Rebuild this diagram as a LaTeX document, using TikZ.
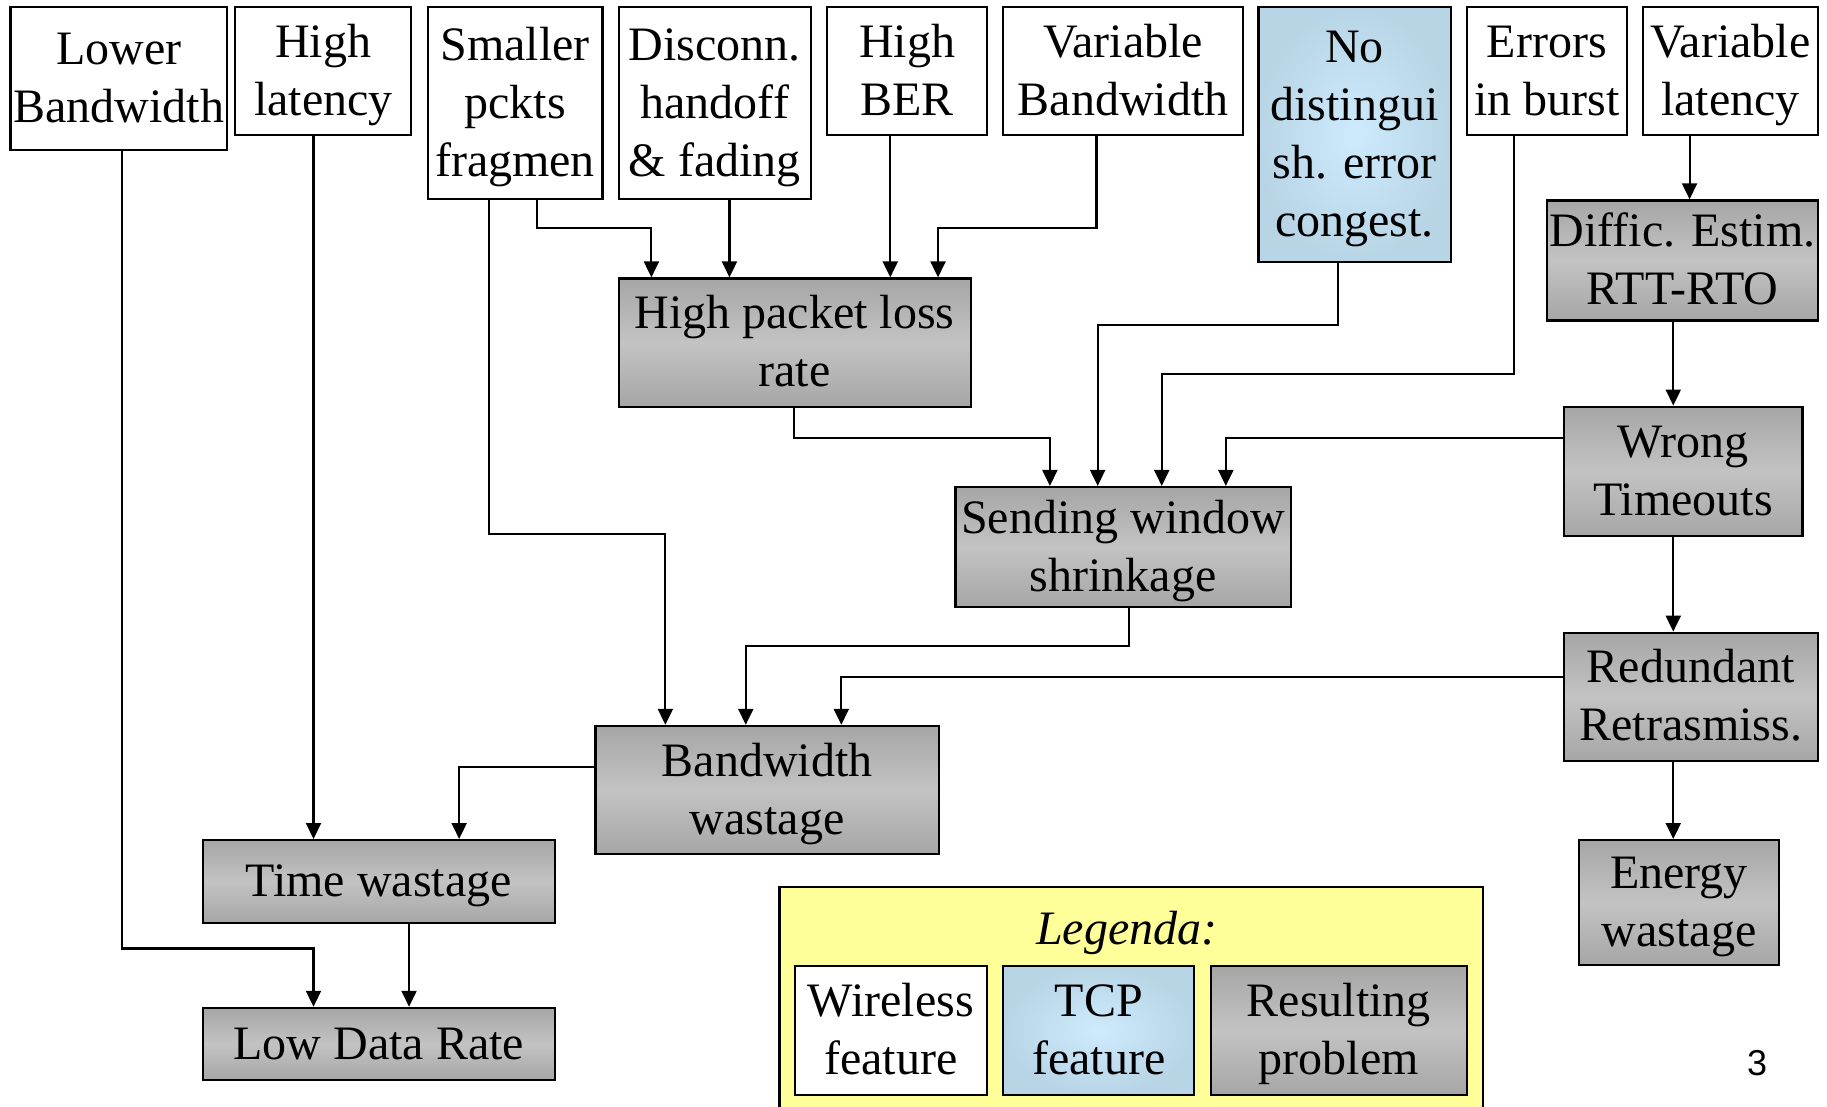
\documentclass[tikz,border=0pt]{standalone}
\usepackage{fontspec}
\setmainfont{Liberation Serif}
\newfontfamily\numfont{Liberation Sans}
\usetikzlibrary{arrows.meta,calc}

\definecolor{gdark}{HTML}{A6A6A6}
\definecolor{glight}{HTML}{C3C3C3}
\definecolor{blight}{HTML}{CDEBFD}
\definecolor{bdark}{HTML}{B8D5E6}
\definecolor{legy}{HTML}{FFFF99}

\newcommand\boxfont{\fontsize{24}{29}\selectfont}
% line strut giving the first and last text lines a 22pt height and 7pt depth
\newcommand\bstrut{\rule[-7pt]{0pt}{29pt}}
% \bx{style}{x1}{y1}{x2}{y2}{name}{text}: a box spanning the given corners
\newcommand\bx[7]{%
  \node[#1, minimum width={(#4-#2)*0.5826pt}, minimum height={(#5-#3)*0.5826pt}]
    (#6) at ({(#2+#4)/2},{(#3+#5)/2}) {\bstrut#7\bstrut};}

\tikzset{
  basebox/.style={draw=black, line width=1.1pt, inner sep=0pt, align=center, font=\boxfont},
  wbox/.style={basebox, fill=white},
  gbox/.style={basebox, top color=gdark, bottom color=gdark, middle color=glight},
  bbox/.style={basebox, inner color=blight, outer color=bdark},
  arr/.style={line width=1.05pt, -{Triangle[length=8pt,width=7.5pt]}},
}

\begin{document}
\begin{tikzpicture}[x=0.5826pt, y=-0.5826pt]
\useasboundingbox[fill=white] (0,0) rectangle (1568,950);

% top row: wireless features and TCP feature
\bx{wbox}{9}{6}{195}{129}{lb}{Lower\\Bandwidth}
\bx{wbox}{202}{6}{353}{116}{hl}{High\\latency}
\bx{wbox}{367}{6}{517}{171}{sp}{Smaller\\pckts\\fragmen}
\bx{wbox}{531}{6}{696}{171}{dh}{Disconn.\\handoff\\\& fading}
\bx{wbox}{710}{6}{847}{116}{ber}{High\\BER}
\bx{wbox}{861}{6}{1067}{116}{vb}{Variable\\Bandwidth}
\bx{bbox}{1080}{6}{1245}{225}{nd}{No\\distingui\\sh. error\\congest.}
\bx{wbox}{1259}{6}{1396}{116}{eb}{Errors\\in burst}
\bx{wbox}{1410}{6}{1560}{116}{vl}{Variable\\latency}

% resulting problems
\bx{gbox}{1328}{172}{1560}{275}{de}{Diffic. Estim.\\RTT-RTO}
\bx{gbox}{531}{239}{833}{349}{pl}{High packet loss\\rate}
\bx{gbox}{1342}{349}{1547}{460}{wt}{Wrong\\Timeouts}
\bx{gbox}{820}{418}{1108}{521}{sw}{Sending window\\shrinkage}
\bx{gbox}{1342}{543}{1560}{653}{rr}{Redundant\\Retrasmiss.}
\bx{gbox}{511}{623}{806}{733}{bw}{Bandwidth\\wastage}
\bx{gbox}{174}{721}{476}{792}{tw}{Time wastage}
\bx{gbox}{1355}{721}{1527}{828}{ew}{Energy\\wastage}
\bx{gbox}{174}{865}{476}{927}{ld}{Low Data Rate}

% legend
\node[basebox, fill=legy, minimum width={604*0.5826pt}, minimum height={209*0.5826pt}]
  (legend) at (971,865.5) {};
\node[font=\boxfont\itshape] (legtitle) at ($(legend.north)+(-4,41)$) {Legenda:};
\bx{wbox}{682}{829}{847}{940}{lw}{Wireless\\feature}
\bx{bbox}{861}{829}{1025}{940}{lt}{TCP\\feature}
\bx{gbox}{1039}{829}{1259}{940}{lr}{Resulting\\problem}

% page number
\node[font=\numfont\fontsize{18}{20}\selectfont] (pnum) at (1508,912) {3};

% connectors
\draw[arr] ($(hl.south west)+(68,0)$) -- ($(tw.north west)+(96,0)$);
\draw[arr] ($(lb.south west)+(97,0)$) |- ($(ld.north west)+(96,-50)$) -- ($(ld.north west)+(96,0)$);
\draw[arr] ($(tw.south west)+(178,0)$) -- ($(ld.north west)+(178,0)$);
\draw[arr] ($(sp.south west)+(54,0)$) |- ($(bw.north west)+(61,-164)$) -- ($(bw.north west)+(61,0)$);
\draw[arr] ($(sp.south west)+(95,0)$) |- ($(pl.north west)+(29,-42)$) -- ($(pl.north west)+(29,0)$);
\draw[arr] ($(dh.south west)+(96,0)$) -- ($(pl.north west)+(96,0)$);
\draw[arr] ($(ber.south west)+(55,0)$) -- ($(pl.north west)+(234,0)$);
\draw[arr] ($(vb.south west)+(81,0)$) |- ($(pl.north west)+(275,-42)$) -- ($(pl.north west)+(275,0)$);
\draw[arr] ($(nd.south west)+(69,0)$) |- ($(sw.north west)+(123,-138)$) -- ($(sw.north west)+(123,0)$);
\draw[arr] ($(eb.south west)+(41,0)$) |- ($(sw.north west)+(178,-96)$) -- ($(sw.north west)+(178,0)$);
\draw[arr] ($(wt.north west)+(0,28)$) -| ($(sw.north west)+(233,0)$);
\draw[arr] ($(pl.south west)+(151,0)$) |- ($(sw.north west)+(82,-41)$) -- ($(sw.north west)+(82,0)$);
\draw[arr] ($(vl.south west)+(41,0)$) -- ($(de.north west)+(123,0)$);
\draw[arr] ($(de.south west)+(109,0)$) -- ($(wt.north west)+(95,0)$);
\draw[arr] ($(wt.south west)+(95,0)$) -- ($(rr.north west)+(95,0)$);
\draw[arr] ($(rr.south west)+(95,0)$) -- ($(ew.north west)+(82,0)$);
\draw[arr] ($(rr.north west)+(0,39)$) -| ($(bw.north west)+(212,0)$);
\draw[arr] ($(sw.south west)+(150,0)$) |- ($(bw.north west)+(130,-68)$) -- ($(bw.north west)+(130,0)$);
\draw[arr] ($(bw.north west)+(0,36)$) -| ($(tw.north west)+(221,0)$);
\end{tikzpicture}
\end{document}
